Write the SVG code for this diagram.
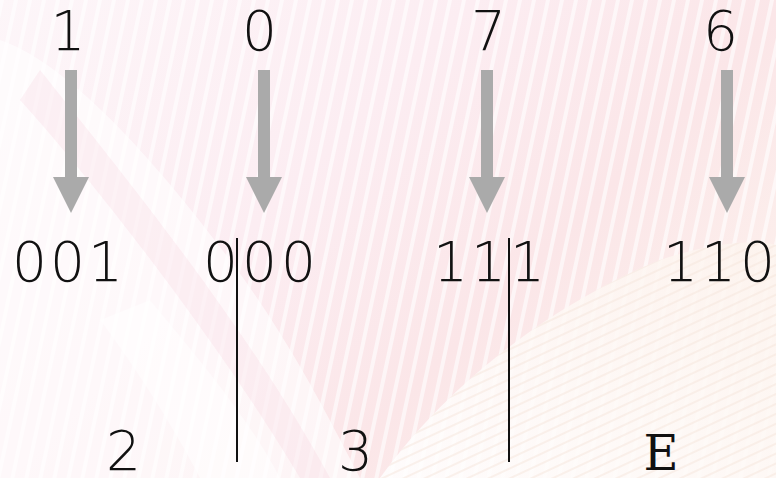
<svg xmlns="http://www.w3.org/2000/svg" width="776" height="478" viewBox="0 0 776 478">
  <defs>
    <linearGradient id="bg" x1="0" y1="0" x2="1" y2="0.6">
      <stop offset="0" stop-color="#fdf6f9"/>
      <stop offset="0.45" stop-color="#fcedf2"/>
      <stop offset="0.75" stop-color="#fbe6e8"/>
      <stop offset="1" stop-color="#fcefec"/>
    </linearGradient>
    <linearGradient id="cream" x1="0" y1="1" x2="1" y2="0">
      <stop offset="0" stop-color="#ffffff"/>
      <stop offset="1" stop-color="#fdf4ee"/>
    </linearGradient>
    <pattern id="streaks" width="14" height="478" patternUnits="userSpaceOnUse" patternTransform="skewX(-12)">
      <rect x="0" y="0" width="4" height="478" fill="#ffffff" opacity="0.6"/>
    </pattern>
    <pattern id="waves" width="40" height="9" patternUnits="userSpaceOnUse" patternTransform="rotate(-25)">
      <rect x="0" y="0" width="40" height="2" fill="#f6e6dc" opacity="0.5"/>
    </pattern>
  </defs>
  <style>
    .num { font-family: "DejaVu Sans", "Liberation Sans", sans-serif; font-weight: 200; font-size: 55px; fill: #111; text-anchor: middle; }
    .slab { font-family: "DejaVu Serif", "Liberation Serif", serif; font-weight: 400; font-size: 48px; fill: #111; text-anchor: middle; }
    .arrow { fill: #aaaaaa; }
    .sep { stroke: #111; stroke-width: 2; }
  </style>

  <g id="background">
    <rect width="776" height="478" fill="url(#bg)"/>
    <rect width="776" height="478" fill="url(#streaks)"/>
    <path d="M0,40 C60,60 140,140 230,260 C290,340 330,420 360,478 L0,478 Z" fill="#ffffff" opacity="0.6"/>
    <path d="M40,70 C120,170 250,330 330,478 L300,478 C230,360 110,200 20,100 Z" fill="#f2b6cc" opacity="0.15"/>
    <path d="M380,478 C450,380 560,300 660,260 C720,240 760,240 776,245 L776,478 Z" fill="url(#cream)" opacity="0.85"/>
    <path d="M380,478 C450,380 560,300 660,260 C720,240 760,240 776,245 L776,478 Z" fill="url(#waves)"/>
    <path d="M150,300 C200,360 250,420 280,478 L200,478 C170,420 130,360 100,320 Z" fill="#ffffff" opacity="0.5"/>
  </g>

  <g id="connectors">
    <g id="arrow-1"><rect class="arrow" x="65" y="70" width="12" height="108"/><polygon class="arrow" points="53,177 89,177 71,213"/></g>
    <g id="arrow-0"><rect class="arrow" x="258" y="70" width="12" height="108"/><polygon class="arrow" points="246,177 282,177 264,213"/></g>
    <g id="arrow-7"><rect class="arrow" x="481" y="70" width="12" height="108"/><polygon class="arrow" points="469,177 505,177 487,213"/></g>
    <g id="arrow-6"><rect class="arrow" x="721" y="70" width="12" height="108"/><polygon class="arrow" points="709,177 745,177 727,213"/></g>
    <line id="sep-1" class="sep" x1="237" y1="238" x2="237" y2="462"/>
    <line id="sep-2" class="sep" x1="509" y1="238" x2="509" y2="462"/>
  </g>

  <g id="top-digits">
    <text id="d1" class="num" x="68" y="50">1</text>
    <text id="d0" class="num" x="259.5" y="50">0</text>
    <text id="d7" class="num" x="488.5" y="50">7</text>
    <text id="d6" class="num" x="720.5" y="50">6</text>
  </g>

  <g id="binary">
    <text id="b001" class="num" x="29.5 67.5 105.5" y="281">001</text>
    <text id="b000" class="num" x="220.5 259.5 298.5" y="281">000</text>
    <text id="b111" class="num" x="450.5 488.5 527.5" y="281">111</text>
    <text id="b110" class="num" x="680.5 718.5 757.5" y="281">110</text>
  </g>

  <g id="groups">
    <text id="g2" class="num" x="123.5" y="470">2</text>
    <text id="g3" class="num" x="355.5" y="470">3</text>
    <text id="gE" class="slab" x="661" y="470">E</text>
  </g>
</svg>
